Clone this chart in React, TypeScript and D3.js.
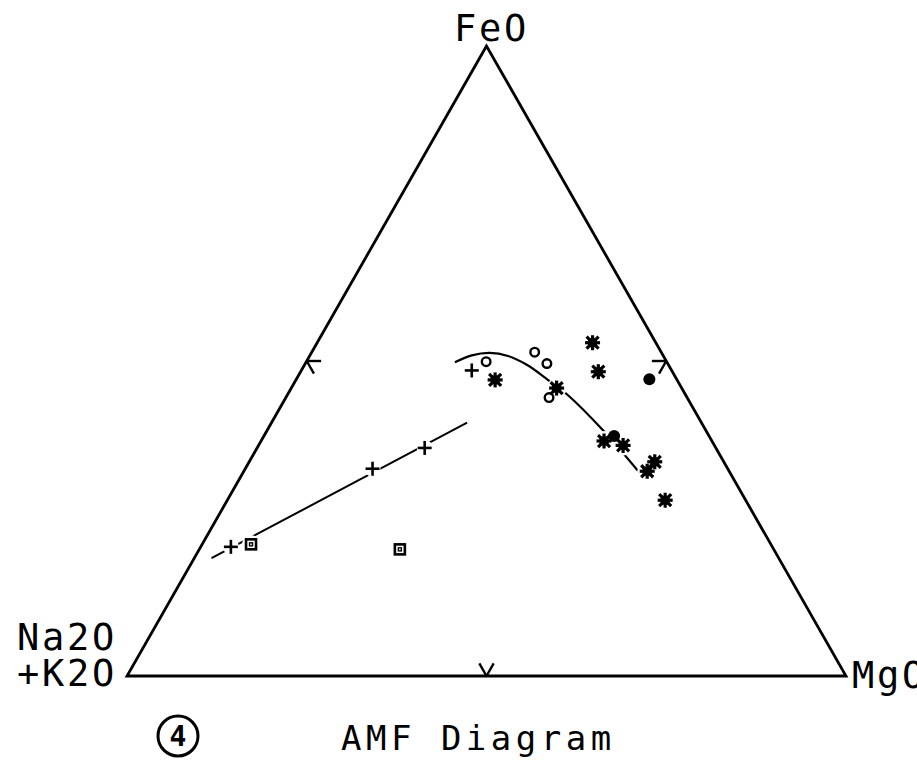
import React from "react";
import * as d3 from "d3";

// Ternary data: [A (Na2O+K2O), F (FeO), M (MgO)] in percent
const plusPts: [number, number, number][] = [
  [27.8, 48.5, 23.7],
  [40.5, 36.2, 23.3],
  [49.4, 32.9, 17.7],
  [75.3, 20.5, 4.2],
];
const squarePts: [number, number, number][] = [
  [72.3, 20.9, 6.8],
  [52.0, 20.1, 27.9],
];
const openCirclePts: [number, number, number][] = [
  [25.1, 49.9, 25.0],
  [17.6, 51.4, 31.0],
  [16.8, 49.6, 33.6],
  [19.2, 44.2, 36.6],
];
const filledCirclePts: [number, number, number][] = [
  [3.8, 47.1, 49.1],
  [13.2, 38.1, 48.7],
];
const asteriskPts: [number, number, number][] = [
  [25.3, 47.0, 27.7],
  [8.8, 52.9, 38.3],
  [10.3, 48.3, 41.4],
  [17.4, 45.7, 36.9],
  [15.0, 37.3, 47.7],
  [12.7, 36.6, 50.7],
  [9.6, 34.0, 56.4],
  [11.4, 32.5, 56.1],
  [11.2, 27.9, 60.9],
];
const trendLine: [number, number, number][] = [
  [78.9, 18.7, 2.4],
  [32.6, 40.2, 27.2],
];
const trendCurve: [number, number, number][] = [
  [29.5, 49.8, 20.7],
  [26.6, 50.9, 22.5],
  [23.9, 51.3, 24.8],
  [21.6, 50.8, 27.6],
  [19.7, 49.4, 30.9],
  [18.0, 47.1, 34.9],
  [16.4, 44.6, 39.0],
  [14.3, 39.0, 46.7],
  [12.6, 32.3, 55.1],
];
const cornerLabels = { top: "FeO", left: ["Na2O", "+K2O"], right: "MgO" };
const titleText = "AMF Diagram";
const figNumber = "4";

const W = 917;
const H = 762;
const xS = d3.scaleLinear().domain([0, 100]).range([127, 846]);
const yS = d3.scaleLinear().domain([0, 100]).range([676, 46]);
const proj = (p: [number, number, number]): [number, number] => {
  const [, f, m] = p;
  return [xS(m + f / 2), yS(f)];
};

const tickDefs: [number, number, number][][] = [
  // left edge midpoint
  [[50, 50, 0], [48, 50, 2]],
  [[50, 50, 0], [50, 48, 2]],
  // right edge midpoint
  [[0, 50, 50], [2, 50, 48]],
  [[0, 50, 50], [2, 48, 50]],
  // bottom edge midpoint
  [[50, 0, 50], [48, 2, 50]],
  [[50, 0, 50], [50, 2, 48]],
];

const font = "'DejaVu Sans Mono', monospace";

export default function App() {
  const tri = [proj([0, 100, 0]), proj([100, 0, 0]), proj([0, 0, 100])];
  const triPath = "M" + tri.map((p) => p.join(",")).join("L") + "Z";
  const lineGen = d3.line<[number, number]>();
  const curveGen = d3.line<[number, number]>().curve(d3.curveCatmullRom.alpha(0.5));

  const halos: { p: [number, number]; r: number }[] = [
    ...plusPts.map((p) => ({ p: proj(p), r: 8 })),
    ...squarePts.map((p) => ({ p: proj(p), r: 9 })),
    ...openCirclePts.map((p) => ({ p: proj(p), r: 6.5 })),
    ...filledCirclePts.map((p) => ({ p: proj(p), r: 8.5 })),
    ...asteriskPts.map((p) => ({ p: proj(p), r: 10 })),
  ];

  return (
    <svg width={W} height={H} style={{ position: "absolute", left: 0, top: 0, background: "#fff" }}>
      <rect x={0} y={0} width={W} height={H} fill="#fff" />
      <path d={triPath} fill="none" stroke="#000" strokeWidth={2.8} strokeLinejoin="miter" />
      {tickDefs.map((t, i) => (
        <path key={"t" + i} d={lineGen(t.map(proj))!} stroke="#000" strokeWidth={2.4} fill="none" />
      ))}
      <path d={lineGen(trendLine.map(proj))!} stroke="#000" strokeWidth={2} fill="none" />
      <path d={curveGen(trendCurve.map(proj))!} stroke="#000" strokeWidth={2.2} fill="none" />
      {halos.map((h, i) => (
        <circle key={"h" + i} cx={h.p[0]} cy={h.p[1]} r={h.r} fill="#fff" />
      ))}
      {plusPts.map((p, i) => {
        const [x, y] = proj(p);
        return (
          <g key={"p" + i} stroke="#000" strokeWidth={2.6}>
            <line x1={x - 7} y1={y} x2={x + 7} y2={y} />
            <line x1={x} y1={y - 7} x2={x} y2={y + 7} />
          </g>
        );
      })}
      {squarePts.map((p, i) => {
        const [x, y] = proj(p);
        return (
          <g key={"s" + i} stroke="#000" fill="none">
            <rect x={x - 5} y={y - 5} width={10} height={10} strokeWidth={2.6} />
            <rect x={x - 1.5} y={y - 1.5} width={3} height={3} strokeWidth={1.4} />
          </g>
        );
      })}
      {openCirclePts.map((p, i) => {
        const [x, y] = proj(p);
        return <circle key={"o" + i} cx={x} cy={y} r={4.3} fill="none" stroke="#000" strokeWidth={2.4} />;
      })}
      {filledCirclePts.map((p, i) => {
        const [x, y] = proj(p);
        return <circle key={"f" + i} cx={x} cy={y} r={6} fill="#000" />;
      })}
      {asteriskPts.map((p, i) => {
        const [x, y] = proj(p);
        const a = 7.5;
        const d = 6;
        return (
          <g key={"a" + i} stroke="#000" strokeWidth={3.2}>
            <rect x={x - 4.5} y={y - 4.5} width={9} height={9} fill="#000" stroke="none" />
            <line x1={x - a} y1={y} x2={x + a} y2={y} />
            <line x1={x} y1={y - a} x2={x} y2={y + a} />
            <line x1={x - d} y1={y - d} x2={x + d} y2={y + d} />
            <line x1={x - d} y1={y + d} x2={x + d} y2={y - d} />
          </g>
        );
      })}
      <g fontFamily={font} fill="#000">
        <text x={454} y={41} fontSize={37} letterSpacing={2.7}>{cornerLabels.top}</text>
        <text x={17} y={650} fontSize={37} letterSpacing={2.7}>{cornerLabels.left[0]}</text>
        <text x={17} y={686} fontSize={37} letterSpacing={2.7}>{cornerLabels.left[1]}</text>
        <text x={852} y={688} fontSize={37} letterSpacing={2.7}>{cornerLabels.right}</text>
        <text x={341} y={750} fontSize={34} letterSpacing={4.5}>{titleText}</text>
        <circle cx={178} cy={736} r={20} fill="none" stroke="#000" strokeWidth={3} />
        <text x={178} y={746} fontSize={28} fontWeight="bold" textAnchor="middle">{figNumber}</text>
      </g>
    </svg>
  );
}
